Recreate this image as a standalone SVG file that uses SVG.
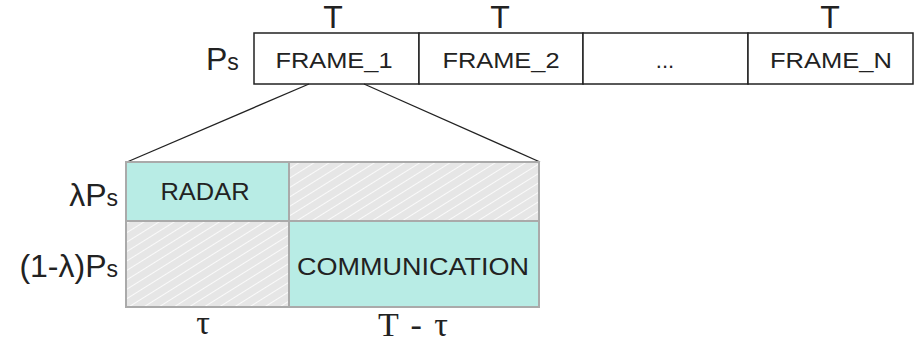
<svg xmlns="http://www.w3.org/2000/svg" width="916" height="343" viewBox="0 0 916 343">
<style>
.frame{fill:#fff;stroke:#222;stroke-width:1.5}
.ft{font-family:"Liberation Sans",Arial,sans-serif;font-size:22px;fill:#222;text-anchor:middle}
.bt{font-family:"Liberation Sans",Arial,sans-serif;font-size:23px;fill:#222;text-anchor:middle}
.big{font-family:"Liberation Sans",Arial,sans-serif;font-size:32px;fill:#222}
.sub{font-size:23px}
.teal{fill:#b8ece5;stroke:#aaa;stroke-width:2}
.hatch{fill:url(#hp);stroke:#aaa;stroke-width:2}
.serif{font-family:"Liberation Serif","Times New Roman",serif;font-size:34px;fill:#222}
.conn{stroke:#222;stroke-width:1.3;fill:none}
</style>
<defs>
<pattern id="hp" patternUnits="userSpaceOnUse" width="8" height="8" patternTransform="rotate(58)">
<rect width="8" height="8" fill="#e6e6e6"/>
<line x1="0" y1="0" x2="0" y2="8" stroke="#fafafa" stroke-width="2"/>
</pattern>
</defs>
<g id="T-labels">
<text class="big" x="333" y="28" text-anchor="middle">T</text>
<text class="big" x="500" y="28" text-anchor="middle">T</text>
<text class="big" x="830" y="28" text-anchor="middle">T</text>
</g>
<g id="ps-label"><text class="big" x="206" y="70">P<tspan class="sub">s</tspan></text></g>
<g id="frame1"><rect class="frame" x="254" y="33" width="165" height="51"/><text class="ft" x="334" y="68" textLength="117" lengthAdjust="spacingAndGlyphs">FRAME_1</text></g>
<g id="frame2"><rect class="frame" x="419" y="33" width="164" height="51"/><text class="ft" x="501" y="68" textLength="117" lengthAdjust="spacingAndGlyphs">FRAME_2</text></g>
<g id="frame-dots"><rect class="frame" x="583" y="33" width="165" height="51"/><text class="ft" x="665" y="68">...</text></g>
<g id="frameN"><rect class="frame" x="748" y="33" width="165" height="51"/><text class="ft" x="831" y="68" textLength="122" lengthAdjust="spacingAndGlyphs">FRAME_N</text></g>
<g id="connectors">
<line class="conn" x1="309" y1="84" x2="127" y2="162"/>
<line class="conn" x1="364" y1="84" x2="540" y2="162"/>
</g>
<g id="radar"><rect class="teal" x="126" y="162" width="163" height="59"/><text class="bt" x="205" y="200" textLength="89" lengthAdjust="spacingAndGlyphs">RADAR</text></g>
<g id="idle-top"><rect class="hatch" x="289" y="162" width="250" height="59"/></g>
<g id="idle-bottom"><rect class="hatch" x="126" y="221" width="163" height="86"/></g>
<g id="communication"><rect class="teal" x="289" y="221" width="250" height="86"/><text class="bt" x="413" y="275" textLength="232" lengthAdjust="spacingAndGlyphs">COMMUNICATION</text></g>
<g id="row-labels">
<text class="big" x="118" y="206" text-anchor="end">λP<tspan class="sub">s</tspan></text>
<text class="big" x="118" y="277" text-anchor="end">(1-λ)P<tspan class="sub">s</tspan></text>
</g>
<g id="time-labels">
<text class="serif" x="203" y="334" text-anchor="middle">τ</text>
<text class="serif" x="378" y="336" textLength="70" lengthAdjust="spacing" xml:space="preserve">T - τ</text>
</g>
</svg>
